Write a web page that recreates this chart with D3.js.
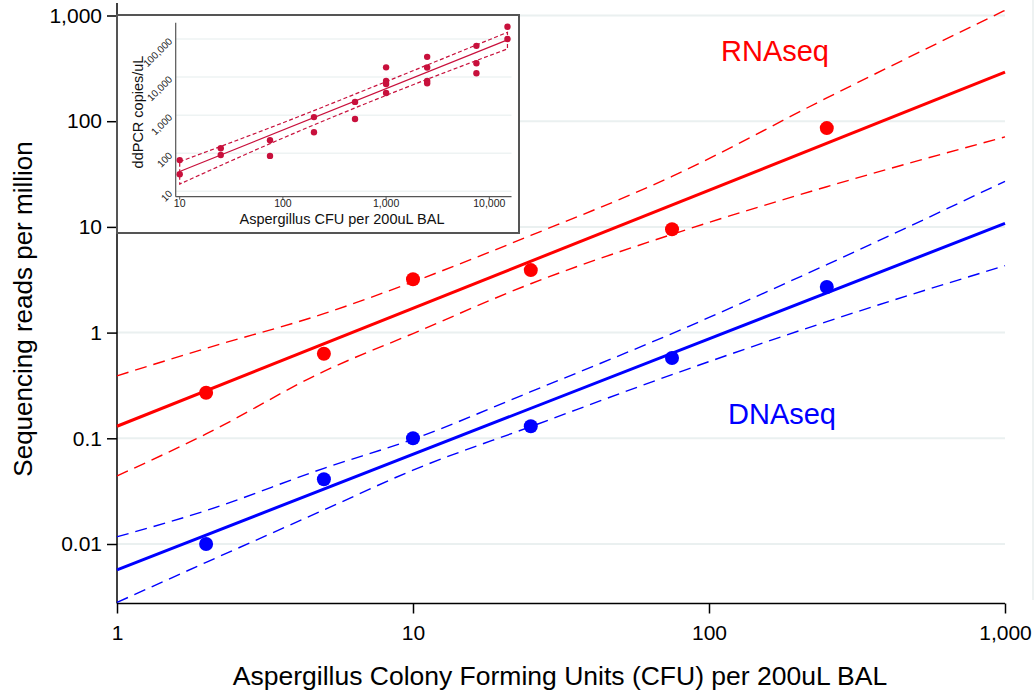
<!DOCTYPE html>
<meta charset="utf-8">
<html>
<head>
  <title>Aspergillus reads vs CFU</title>
  <style>
    body { margin: 0; background: #fff; }
    text { font-family: "Liberation Sans", Arial, sans-serif; }
  </style>
</head>
<body>

  <svg id="my_dataviz" width="1035" height="692"></svg>

  <script src="https://d3js.org/d3.v7.min.js"></script>
  <script>

    // ---- data ----
    var cfu = [2, 5, 10, 25, 75, 250]
    var rnaReads = [0.27, 0.63, 3.2, 3.9, 9.5, 86]
    var dnaReads = [0.01, 0.041, 0.1, 0.13, 0.575, 2.7]

    // regression lines (straight in log-log) and 95% bands
    var fitX = [1, 1000]
    var rnaFit = [0.13, 291]
    var dnaFit = [0.0057, 10.8]
    var bandX = [1, 2, 5, 10, 25, 75, 250, 1000]
    var rnaUpper = [0.39, 0.71, 1.51, 3.02, 8.3, 30, 166, 1120]
    var rnaLower = [0.044, 0.11, 0.43, 0.98, 2.9, 8.5, 24, 71]
    var dnaUpper = [0.0117, 0.0207, 0.052, 0.098, 0.276, 0.98, 4.4, 27]
    var dnaLower = [0.0028, 0.0067, 0.021, 0.05, 0.129, 0.40, 1.27, 4.3]

    var xTicks = [1, 10, 100, 1000]
    var yTicks = [0.01, 0.1, 1, 10, 100, 1000]

    // inset: ddPCR vs CFU
    var ddCfu = [10, 10, 25, 25, 75, 75, 200, 200, 500, 500, 1000, 1000, 1000, 1000,
                 2500, 2500, 2500, 2500, 7500, 7500, 7500, 15000, 15000]
    var ddCopies = [66, 28, 135, 90, 220, 85, 890, 355, 2230, 790, 18000, 7900, 6600, 3800,
                    34000, 17800, 7900, 6900, 66000, 23000, 12600, 210000, 100000]
    var ddFitX = [10, 15000]
    var ddFit = [33, 95000]
    var ddBandX = [10, 100, 1000, 15000]
    var ddUpper = [60, 630, 7600, 150000]
    var ddLower = [15.5, 250, 3300, 55000]
    var ddXTicks = [10, 100, 1000, 10000]
    var ddYTicks = [10, 100, 1000, 10000, 100000]

    var svg = d3.select("svg")
    var fmt = d3.format(",")
    var red = "#ff0000", blue = "#0000ff", crimson = "#c8103c", grid = "#eaf0f0"

    function pairs(xs, ys) { return xs.map(function (v, i) { return [v, ys[i]] }) }

    // ---- main scales ----
    var x = d3.scaleLog().domain([1, 1000]).range([117, 1005])
    var y = d3.scaleLog().domain([0.01, 1000]).range([544, 15.5])
    var yBottom = 603.5, yTop = 3

    // faint frame line on the right
    svg.append("line")
      .attr("x1", 1033).attr("x2", 1033).attr("y1", 0).attr("y2", 600)
      .attr("stroke", "#eef2f2").attr("stroke-width", 2)

    // gridlines
    svg.append("g")
      .selectAll("line")
      .data(yTicks)
      .enter()
      .append("line")
      .attr("x1", x(1)).attr("x2", x(1000))
      .attr("y1", function (d) { return y(d) })
      .attr("y2", function (d) { return y(d) })
      .attr("stroke", grid)
      .attr("stroke-width", 2)

    // axes
    var yAxis = svg.append("g")
      .attr("transform", "translate(" + x(1) + ",0)")
      .call(d3.axisLeft(y).tickValues(yTicks).tickFormat(function (d) { return d < 1 ? d3.format("")(d) : fmt(d) }).tickSize(10).tickPadding(5))
    yAxis.select(".domain").remove()
    yAxis.selectAll(".tick line").attr("stroke", "#000").attr("stroke-width", 1.5)
    yAxis.selectAll(".tick text").style("font-size", "21px").attr("fill", "#000")
      .attr("font-family", "Liberation Sans, Arial, sans-serif")

    var xAxis = svg.append("g")
      .attr("transform", "translate(0," + yBottom + ")")
      .call(d3.axisBottom(x).tickValues(xTicks).tickFormat(fmt).tickSize(10).tickPadding(12))
    xAxis.select(".domain").remove()
    xAxis.selectAll(".tick line").attr("stroke", "#000").attr("stroke-width", 1.5)
    xAxis.selectAll(".tick text").style("font-size", "21px").attr("fill", "#000")
      .attr("font-family", "Liberation Sans, Arial, sans-serif")

    svg.append("line")
      .attr("x1", x(1)).attr("x2", x(1)).attr("y1", yTop).attr("y2", yBottom)
      .attr("stroke", "#000").attr("stroke-width", 1.5)
    svg.append("line")
      .attr("x1", x(1)).attr("x2", x(1000)).attr("y1", yBottom).attr("y2", yBottom)
      .attr("stroke", "#000").attr("stroke-width", 1.5)

    // axis titles
    svg.append("text")
      .attr("x", 560).attr("y", 685)
      .attr("text-anchor", "middle")
      .style("font-size", "26.5px")
      .text("Aspergillus Colony Forming Units (CFU) per 200uL BAL")

    svg.append("text")
      .attr("transform", "translate(32,309) rotate(-90)")
      .attr("text-anchor", "middle")
      .style("font-size", "26px")
      .text("Sequencing reads per million")

    // ---- lines ----
    var line = d3.line()
      .x(function (d) { return x(d[0]) })
      .y(function (d) { return y(d[1]) })
      .curve(d3.curveMonotoneX)

    var series = [
      { fit: dnaFit, upper: dnaUpper, lower: dnaLower, pts: dnaReads, color: blue },
      { fit: rnaFit, upper: rnaUpper, lower: rnaLower, pts: rnaReads, color: red }
    ]

    series.forEach(function (s) {
      [s.upper, s.lower].forEach(function (b) {
        svg.append("path")
          .datum(pairs(bandX, b))
          .attr("d", line)
          .attr("fill", "none")
          .attr("stroke", s.color)
          .attr("stroke-width", 1.4)
          .style("stroke-dasharray", "12,7")
      })

      svg.append("path")
        .datum(pairs(fitX, s.fit))
        .attr("d", line)
        .attr("fill", "none")
        .attr("stroke", s.color)
        .attr("stroke-width", 3)

      svg.append("g")
        .selectAll("circle")
        .data(pairs(cfu, s.pts))
        .enter()
        .append("circle")
        .attr("cx", function (d) { return x(d[0]) })
        .attr("cy", function (d) { return y(d[1]) })
        .attr("r", 7)
        .attr("fill", s.color)
    })

    // series labels
    svg.append("text")
      .attr("x", 721).attr("y", 61)
      .style("font-size", "29px")
      .attr("fill", red)
      .text("RNAseq")
    svg.append("text")
      .attr("x", 728).attr("y", 424)
      .style("font-size", "29px")
      .attr("fill", blue)
      .text("DNAseq")

    // ---- inset ----
    var inset = svg.append("g")

    inset.append("rect")
      .attr("x", 117).attr("y", 15)
      .attr("width", 402).attr("height", 218)
      .attr("fill", "#fff")
      .attr("stroke", "#555")
      .attr("stroke-width", 2)

    var ix = d3.scaleLog().domain([10, 10000]).range([179.7, 489.3])
    var iy = d3.scaleLog().domain([10, 100000]).range([191.3, 39])
    var iLeft = 175.7, iRight = 511.5, iBottom = 196.7, iTop = 22.7

    inset.append("g")
      .selectAll("line")
      .data(ddYTicks)
      .enter()
      .append("line")
      .attr("x1", iLeft).attr("x2", iRight)
      .attr("y1", function (d) { return iy(d) })
      .attr("y2", function (d) { return iy(d) })
      .attr("stroke", "#eef3f3")
      .attr("stroke-width", 1.5)

    inset.append("line")
      .attr("x1", iLeft).attr("x2", iLeft).attr("y1", iTop).attr("y2", iBottom)
      .attr("stroke", "#555").attr("stroke-width", 1.2)
    inset.append("line")
      .attr("x1", iLeft).attr("x2", iRight).attr("y1", iBottom).attr("y2", iBottom)
      .attr("stroke", "#555").attr("stroke-width", 1.2)

    // inset x ticks and labels
    inset.append("g")
      .selectAll("line")
      .data(ddXTicks)
      .enter()
      .append("line")
      .attr("x1", function (d) { return ix(d) })
      .attr("x2", function (d) { return ix(d) })
      .attr("y1", iBottom).attr("y2", iBottom + 3)
      .attr("stroke", "#555")
    inset.append("g")
      .selectAll("text")
      .data(ddXTicks)
      .enter()
      .append("text")
      .attr("x", function (d) { return ix(d) })
      .attr("y", 207)
      .attr("text-anchor", "middle")
      .style("font-size", "10.5px")
      .attr("fill", "#222")
      .text(function (d) { return fmt(d) })

    // inset y labels, slanted
    inset.append("g")
      .selectAll("text")
      .data(ddYTicks)
      .enter()
      .append("text")
      .attr("transform", function (d) { return "translate(173," + (iy(d) + 3) + ") rotate(-45)" })
      .attr("text-anchor", "end")
      .style("font-size", "10px")
      .attr("fill", "#222")
      .text(function (d) { return fmt(d) })

    inset.append("text")
      .attr("x", 342).attr("y", 224)
      .attr("text-anchor", "middle")
      .style("font-size", "14.5px")
      .attr("fill", "#111")
      .text("Aspergillus CFU per 200uL BAL")
    inset.append("text")
      .attr("transform", "translate(143,112) rotate(-90)")
      .attr("text-anchor", "middle")
      .style("font-size", "14.5px")
      .attr("fill", "#111")
      .text("ddPCR copies/uL")

    var iline = d3.line()
      .x(function (d) { return ix(d[0]) })
      .y(function (d) { return iy(d[1]) })
      .curve(d3.curveMonotoneX)

    // band outline: upper forward, lower back, closed at both ends
    var upperD = iline(pairs(ddBandX, ddUpper))
    var lowerD = iline(pairs(ddBandX, ddLower).reverse()).replace(/^M/, "L")
    inset.append("path")
      .attr("d", upperD + lowerD + "Z")
      .attr("fill", "none")
      .attr("stroke", crimson)
      .attr("stroke-width", 1.2)
      .style("stroke-dasharray", "4,2.5")

    inset.append("path")
      .datum(pairs(ddFitX, ddFit))
      .attr("d", iline)
      .attr("fill", "none")
      .attr("stroke", crimson)
      .attr("stroke-width", 1.2)

    inset.append("g")
      .selectAll("circle")
      .data(pairs(ddCfu, ddCopies))
      .enter()
      .append("circle")
      .attr("cx", function (d) { return ix(d[0]) })
      .attr("cy", function (d) { return iy(d[1]) })
      .attr("r", 3.2)
      .attr("fill", crimson)

  </script>
</body>
</html>
